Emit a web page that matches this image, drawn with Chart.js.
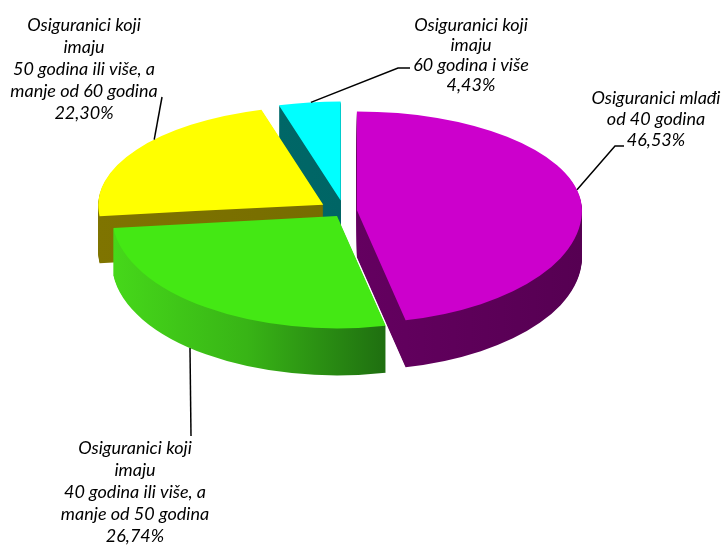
<!DOCTYPE html>
<html><head><meta charset="utf-8">
<script src="https://cdn.jsdelivr.net/npm/chart.js@4/dist/chart.umd.min.js"></script>
<style>html,body{margin:0;padding:0;background:#fff}canvas{display:block}</style>
</head><body>
<canvas id="c" width="726" height="546"></canvas>
<script>
// ---- data ----
const labelLines = [
  ['Osiguranici mlađi', 'od 40 godina'],
  ['Osiguranici koji', 'imaju', '40 godina ili više, a', 'manje od 50 godina'],
  ['Osiguranici koji', 'imaju', '50 godina ili više, a', 'manje od 60 godina'],
  ['Osiguranici koji', 'imaju', '60 godina i više']
];
const categories = labelLines.map(l => l.join(' '));
const shares = [46.53, 26.74, 22.30, 4.43];
const shareLabels = shares.map(v => v.toFixed(2).replace('.', ',') + '%');

// ---- styles / layout ----
const topColors = ['#CC00CC', '#44E814', '#FFFF00', '#00FFFF'];
const sideStops = [
  [[0, '#6A0066'], [0.5, '#640060'], [1, '#560052']],
  [[0, '#46D81A'], [0.3, '#38B416'], [0.62, '#1E6C10'], [1, '#1E6C10']],
  [[0, '#7F7400'], [1, '#6E6600']],
  [[0, '#006C6C'], [1, '#005E5E']]
];
const explode = [13, 12, 25, 24];
const PIE = { cx: 344, cy: 211, r: 225, kBack: 0.44, kFront: 0.50, depth: 47 };
const labelLayout = [
  { x: 656, y: 98, lh: 21, anchor: -12, line: [[615, 146], [624, 146]] },
  { x: 135, y: 448, lh: 22, anchor: 130.8, deep: true, line: [[191, 436]] },
  { x: 84, y: 25, lh: 22, anchor: 221.3, line: [[162, 97]] },
  { x: 471, y: 25, lh: 20, anchor: -97.6, line: [[398, 68], [410, 68]] }
];

const pie3d = {
  id: 'pie3d',
  beforeDatasetsDraw(chart) {
    const ctx = chart.ctx;
    const arcs = chart.getDatasetMeta(0).data;
    const Arc = arcs[0].constructor;
    const W = chart.width, H = chart.height;
    const clones = arcs.map((a, i) => new Arc({
      x: a.x, y: a.y, startAngle: a.startAngle, endAngle: a.endAngle,
      circumference: a.circumference, innerRadius: 0, outerRadius: PIE.r,
      options: Object.assign({}, a.options, { offset: 0, spacing: 0, borderWidth: 0, backgroundColor: topColors[i] })
    }));
    const sideFill = clones.map((el, i) => {
      const g = ctx.createLinearGradient(el.x - PIE.r, 0, el.x + PIE.r, 0);
      sideStops[i].forEach(s => g.addColorStop(s[0], s[1]));
      return g;
    });
    const paint = (i, fill, dd) => {
      const el = clones[i];
      el.options.backgroundColor = fill;
      const mid = (el.startAngle + el.endAngle) / 2;
      const ex = Math.cos(mid) * explode[i], ey = Math.sin(mid) * explode[i];
      [[0, PIE.cy + dd, PIE.kBack], [PIE.cy + dd, H, PIE.kFront]].forEach(([y0, y1, k]) => {
        ctx.save();
        ctx.beginPath(); ctx.rect(0, y0, W, y1 - y0); ctx.clip();
        ctx.translate(PIE.cx, PIE.cy + dd);
        ctx.scale(1, k);
        ctx.translate(ex - el.x, ey - el.y);
        el.draw(ctx);
        ctx.restore();
      });
    };
    for (let dd = PIE.depth; dd >= 1; dd--) {
      for (let i = 0; i < clones.length; i++) paint(i, sideFill[i], dd);
    }
    for (let i = 0; i < clones.length; i++) paint(i, topColors[i], 0);
    return false;
  },
  afterDraw(chart) {
    const ctx = chart.ctx;
    const arcs = chart.getDatasetMeta(0).data;
    ctx.save();
    ctx.strokeStyle = '#000'; ctx.lineWidth = 1.5;
    ctx.font = 'italic 18px Lato';
    ctx.fillStyle = '#000'; ctx.textAlign = 'center'; ctx.textBaseline = 'middle';
    labelLayout.forEach((L, i) => {
      const a = arcs[i];
      const mid = (a.startAngle + a.endAngle) / 2;
      const ang = L.anchor * Math.PI / 180;
      const rx = Math.cos(mid) * explode[i] + Math.cos(ang) * PIE.r;
      const ry = Math.sin(mid) * explode[i] + Math.sin(ang) * PIE.r;
      const k = ry < 0 ? PIE.kBack : PIE.kFront;
      const sx = PIE.cx + rx, sy = PIE.cy + ry * k + (L.deep ? PIE.depth : 0);
      ctx.beginPath(); ctx.moveTo(sx, sy);
      L.line.forEach(p => ctx.lineTo(p[0], p[1]));
      ctx.stroke();
      const lines = labelLines[i].concat([shareLabels[i]]);
      lines.forEach((t, j) => ctx.fillText(t, L.x, L.y + j * L.lh));
    });
    ctx.restore();
  }
};

new Chart(document.getElementById('c'), {
  type: 'pie',
  data: {
    labels: categories,
    datasets: [{ data: shares, backgroundColor: topColors, borderWidth: 0 }]
  },
  options: {
    responsive: false,
    animation: false,
    devicePixelRatio: 1,
    events: [],
    plugins: { legend: { display: false }, tooltip: { enabled: false } }
  },
  plugins: [pie3d]
});
</script>
</body></html>
